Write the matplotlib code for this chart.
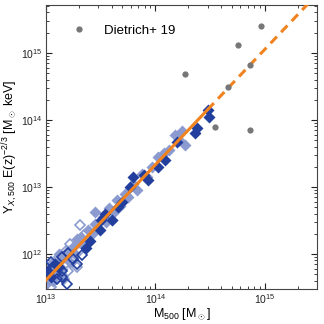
import matplotlib
matplotlib.use("Agg")
import matplotlib.pyplot as plt
import numpy as np

plt.rcParams['font.family'] = ['Liberation Sans', 'DejaVu Sans']
plt.rcParams['mathtext.fontset'] = 'custom'
plt.rcParams['mathtext.rm'] = 'Liberation Sans'
plt.rcParams['mathtext.it'] = 'Liberation Sans:italic'

# 数据: M500 (1e13 Msun), Y (1e12 Msun keV)
m_light = [1.00, 1.07, 1.15, 1.20, 1.26, 1.35, 1.41, 1.51, 1.58, 1.66, 1.78, 1.86,
           2.00, 2.09, 2.24, 2.40, 2.63, 2.82, 3.02, 3.31, 3.55, 3.80, 4.17, 4.47,
           4.79, 5.25, 5.62, 6.31, 6.76, 7.59, 8.32, 9.33, 10.5, 12.0, 13.2, 15.1,
           16.6, 17.4, 18.6, 2.82, 3.98, 1.41, 1.32, 1.12, 1.91]
y_light = [0.355, 0.50, 0.40, 0.56, 0.48, 0.79, 0.60, 0.89, 1.12, 0.76, 1.26, 1.00,
           1.51, 1.78, 1.32, 2.24, 2.00, 2.82, 2.40, 3.55, 3.02, 4.79, 4.17, 6.31,
           5.25, 7.94, 7.08, 11.2, 8.91, 15.8, 14.1, 20.0, 28.2, 31.6, 35.5, 60.3,
           50.1, 67.6, 41.7, 4.17, 3.16, 0.45, 1.00, 0.71, 1.66]

m_dark = [30.0, 31.0, 24.0, 23.0, 15.8, 12.3, 10.5, 7.9, 8.5, 5.9, 6.2, 4.6,
          4.0, 3.2, 3.1, 3.5, 2.3, 2.5, 1.05, 1.12, 1.20, 1.32, 5.0]
y_dark = [141, 112, 76, 63, 46, 25, 20, 15, 12.6, 10.0, 14.1, 5.0,
          3.2, 3.2, 2.3, 4.0, 1.23, 1.58, 0.56, 0.45, 0.71, 0.63, 6.0]

m_light_open = [2.04, 1.91, 1.12, 1.51, 1.66, 1.32, 1.78, 1.20, 1.45, 1.58, 2.00, 1.07, 2.24]
y_light_open = [2.69, 0.63, 0.316, 1.12, 1.41, 0.89, 0.79, 0.71, 0.42, 0.56, 1.12, 0.52, 1.91]

m_dark_open = [1.41, 1.55, 1.41, 1.41, 2.14, 1.78, 1.17, 1.10, 1.58, 1.26, 1.91]
y_dark_open = [0.91, 0.355, 0.457, 0.55, 0.98, 0.83, 0.63, 0.76, 1.05, 0.417, 0.71]

# Dietrich+ 19 (Msun, Msun keV)
m_dietrich = [9.3e14, 5.75e14, 1.86e14, 7.4e14, 4.6e14, 3.5e14, 7.4e14]
y_dietrich = [2.5e15, 1.32e15, 4.9e14, 6.5e14, 3.1e14, 7.8e13, 7.1e13]

# 拟合关系
fit_pivot = 1e14
fit_norm = 2.14e13
fit_slope = 1.72
fit_break = 3.0e14

c_dark = '#223f9e'
c_light = '#8b9bd0'
c_orange = '#f0831f'

fig = plt.figure(figsize=(3.24, 3.24), dpi=100)
ax = fig.add_axes([0.142, 0.108, 0.836, 0.877])

ax.plot(np.array(m_light) * 1e13, np.array(y_light) * 1e12, 'D', ms=6.3,
        color=c_light, mec='none', zorder=2)
ax.plot(np.array(m_light_open) * 1e13, np.array(y_light_open) * 1e12, 'D', ms=5.3,
        mfc='none', mec=c_light, mew=1.2, zorder=2)
ax.plot(np.array(m_dark_open) * 1e13, np.array(y_dark_open) * 1e12, 'D', ms=5.3,
        mfc='none', mec=c_dark, mew=1.2, zorder=3)
ax.plot(np.array(m_dark) * 1e13, np.array(y_dark) * 1e12, 'D', ms=6.3,
        color=c_dark, mec='none', zorder=3)

x1 = np.logspace(13, np.log10(fit_break), 50)
x2 = np.logspace(np.log10(fit_break), 15.6, 50)
ax.plot(x1, fit_norm * (x1 / fit_pivot) ** fit_slope, '-', color=c_orange, lw=2.2, zorder=4)
ax.plot(x2, fit_norm * (x2 / fit_pivot) ** fit_slope, '--', color=c_orange, lw=2.2,
        dashes=(3, 2), zorder=4)

ax.plot(m_dietrich, y_dietrich, 'o', ms=4.5, color='#777777', mec='none',
        label='Dietrich+ 19', zorder=5)

ax.set_xscale('log')
ax.set_yscale('log')
ax.set_xlim(1e13, 3e15)
ax.set_ylim(3e11, 5.2e15)

ax.tick_params(which='both', direction='in', top=True, right=True, labelsize=7.5,
               colors='#222222', pad=2.5)
ax.tick_params(which='major', length=4)
ax.tick_params(which='minor', length=2)
for s in ax.spines.values():
    s.set_color('#444444')

ax.set_xlabel(r'M$_{500}$ [M$_\odot$]', fontsize=9, labelpad=0)
ax.set_ylabel(r'Y$_{X,500}$ E(z)$^{-2/3}$ [M$_\odot$ keV]', fontsize=9, labelpad=1)

ax.legend(loc='upper left', frameon=False, fontsize=9.5, handletextpad=0.9,
          borderaxespad=1.0, borderpad=0.5)

plt.savefig("out.png", dpi=100)
